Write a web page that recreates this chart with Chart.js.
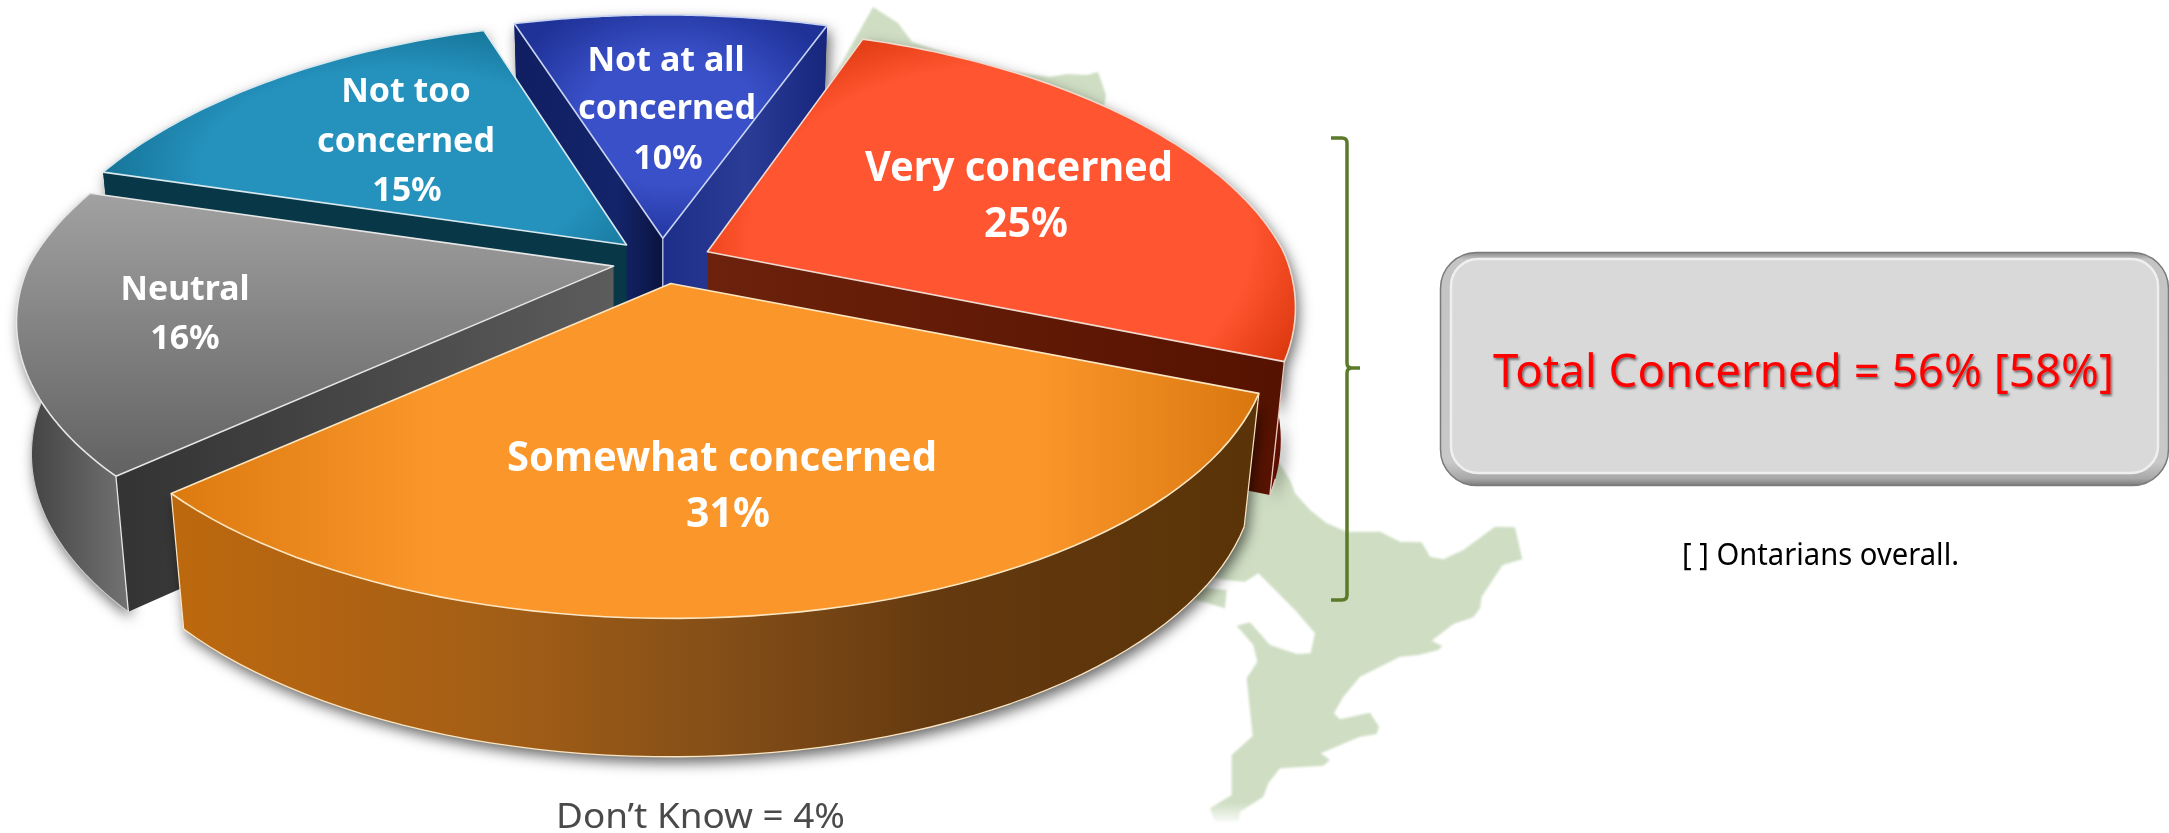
<!DOCTYPE html>
<html>
<head>
<meta charset="utf-8">
<style>
html,body{margin:0;padding:0;background:#fff;width:2169px;height:833px;overflow:hidden}
#bg{position:absolute;left:0;top:0}
#wrap{position:absolute;left:0;top:0;width:2169px;height:833px}
text{font-family:"Noto Sans","Open Sans",sans-serif}
</style>
<script src="https://cdn.jsdelivr.net/npm/chart.js@4/dist/chart.umd.min.js"></script>
</head>
<body>
<svg id="bg" width="2169" height="833" viewBox="0 0 2169 833" xmlns="http://www.w3.org/2000/svg">
  <defs>
    <filter id="soft" x="-5%" y="-5%" width="110%" height="110%"><feGaussianBlur stdDeviation="0.9"/></filter>
    <filter id="ts" x="-5%" y="-20%" width="110%" height="140%"><feDropShadow dx="1.5" dy="2" stdDeviation="1.2" flood-color="#000" flood-opacity="0.5"/></filter>
    <linearGradient id="fade" x1="0" y1="0" x2="0" y2="1"><stop offset="0.955" stop-color="#CFDEC3"/><stop offset="1" stop-color="#CFDEC3" stop-opacity="0.15"/></linearGradient>
    <linearGradient id="bev" x1="0" y1="0" x2="0" y2="1">
      <stop offset="0" stop-color="#8c8c8c"/><stop offset="0.03" stop-color="#c4c4c4"/>
      <stop offset="0.9" stop-color="#c8c8c8"/><stop offset="0.97" stop-color="#a8a8a8"/><stop offset="1" stop-color="#7c7c7c"/>
    </linearGradient>
  </defs>
  <g fill="#CFDEC3" filter="url(#soft)">
    <polygon points="832,80 873,7 898,23 912,42 1000,70 1050,77 1067,74 1087,75 1098,72 1106,95 1100,130 860,130"/>
    <g transform="translate(1180,480) scale(0.33333)">
      <polygon fill="url(#fade)" points="330,0 345,40 390,90 440,130 500,155 600,155 660,185 725,187 750,230 790,238 850,210 945,140 1005,142 1027,238 968,255 905,350 900,385 880,412 820,432 755,482 787,498 775,510 715,525 660,530 540,590 490,650 462,700 480,718 570,698 597,740 590,762 540,770 422,820 450,840 430,857 300,865 265,910 250,950 180,995 178,1025 105,1025 90,985 155,945 155,825 218,768 200,595 232,545 220,495 170,437 210,427 270,495 350,522 392,520 405,460 345,390 235,280 195,305 135,300 60,285 -90,300 180,-240"/>
      <polygon points="40,320 140,330 135,385 70,365 0,350"/>
    </g>
  </g>
  <path d="M1331,138 H1342 Q1347,138 1347,143 V363 Q1347,368 1352,368 H1360 M1352,368 Q1347,368 1347,373 V595 Q1347,600 1342,600 H1331" fill="none" stroke="#5B7A2A" stroke-width="3.5"/>
  <rect x="1440.5" y="252.5" width="728" height="233" rx="36" fill="url(#bev)" stroke="#7a7a7a" stroke-width="1.5"/>
  <rect x="1451" y="259" width="707" height="214" rx="27" fill="#D9D9D9" stroke="#EFEFEF" stroke-width="2.5"/>
  <text x="1493" y="387" font-size="46" fill="#FF0000" textLength="621" lengthAdjust="spacingAndGlyphs" filter="url(#ts)">Total Concerned = 56% [58%]</text>
  <text x="1682" y="565" font-size="30" fill="#000" textLength="277" lengthAdjust="spacingAndGlyphs">[ ] Ontarians overall.</text>
  <text x="556" y="828" font-size="34" fill="#4a4a4a" textLength="289" lengthAdjust="spacingAndGlyphs">Don’t Know = 4%</text>
</svg>
<div id="wrap"><canvas id="c" width="2169" height="833"></canvas></div>
<script>
// ---- chart data ----
const categories = ["Very concerned", "Somewhat concerned", "Neutral", "Not too concerned", "Not at all concerned"];
const values = [25, 31, 16, 15, 10];
const baseColors = ["#FF5530", "#FA962A", "#8A8A8A", "#2592BE", "#3A50C8"];
const labelLines = [
  ["Very concerned", "25%"],
  ["Somewhat concerned", "31%"],
  ["Neutral", "16%"],
  ["Not too", "concerned", "15%"],
  ["Not at all", "concerned", "10%"]
];

// ---- view of the pie plane ----
const VIEW = { A: 585, B: 268, p: 0.2, farNarrow: 0.042, depth: 131, depthGrow: 0.022, shrink: 0.975 };
const WIDTH_FIT = [0.985, 1.004, 1, 1, 1.04];
const DRAW_ORDER = [4, 3, 0, 2, 1];

function sliceGeom(arc, index) {
  const g = arc.getProps(['x', 'y', 'startAngle', 'endAngle', 'outerRadius'], true);
  const mid = (g.startAngle + g.endAngle) / 2;
  const d = (arc.options.offset || 0) / g.outerRadius;
  const apex = { x: g.x + VIEW.A * d * Math.cos(mid), y: g.y + VIEW.B * d * Math.sin(mid) };
  const at = ang => {
    const u = Math.cos(ang), v = -Math.sin(ang), w = 1 + VIEW.p * v;
    const narrow = 1 - VIEW.farNarrow * Math.max(v, 0);
    return { x: apex.x + VIEW.A * WIDTH_FIT[index] * narrow * u / w, y: apex.y - VIEW.B * v / w };
  };
  const low = p => ({ x: apex.x + (p.x - apex.x) * VIEW.shrink, y: p.y + VIEW.depth + (p.y - apex.y) * VIEW.depthGrow });
  const rim = [];
  const N = 60;
  for (let i = 0; i <= N; i++) rim.push(at(g.startAngle + (g.endAngle - g.startAngle) * i / N));
  return { apex, rim, low };
}
function poly(ctx, pts) {
  ctx.beginPath();
  pts.forEach((p, i) => i ? ctx.lineTo(p.x, p.y) : ctx.moveTo(p.x, p.y));
  ctx.closePath();
}
function line(ctx, pts, color, w) {
  ctx.beginPath();
  pts.forEach((p, i) => i ? ctx.lineTo(p.x, p.y) : ctx.moveTo(p.x, p.y));
  ctx.strokeStyle = color; ctx.lineWidth = w; ctx.lineJoin = 'round'; ctx.stroke();
}
function lin(ctx, x0, y0, x1, y1, stops) {
  const g = ctx.createLinearGradient(x0, y0, x1, y1);
  stops.forEach(s => g.addColorStop(s[0], s[1]));
  return g;
}
function ellFill(ctx, cx, cy, rx, ry, stops) {
  ctx.save();
  ctx.translate(cx, cy); ctx.scale(rx, ry);
  const g = ctx.createRadialGradient(0, 0, 0, 0, 0, 1);
  stops.forEach(s => g.addColorStop(s[0], s[1]));
  ctx.fillStyle = g; ctx.fill();
  ctx.restore();
}
const topFill = [
  ctx => ellFill(ctx, 1000, 240, 326, 226, [[0, baseColors[0]], [0.77, baseColors[0]], [1, '#DE3A10']]),
  ctx => { ctx.fillStyle = lin(ctx, 172, 0, 1255, 0, [[0, '#DC7A10'], [0.24, baseColors[1]], [0.8, baseColors[1]], [1, '#DA7810']]); ctx.fill(); },
  ctx => { ctx.fillStyle = lin(ctx, 0, 190, 0, 470, [[0, '#A2A2A2'], [1, '#636363']]); ctx.fill(); },
  ctx => ellFill(ctx, 395, 170, 310, 160, [[0, baseColors[3]], [0.62, baseColors[3]], [1, '#136F90']]),
  ctx => ellFill(ctx, 672, 120, 175, 130, [[0, baseColors[4]], [0.5, baseColors[4]], [1, '#1F3298']])
];
const stripFill = [
  ctx => '#5C0E00',
  ctx => lin(ctx, 184, 0, 1241, 0, [[0, '#BC680F'], [0.3, '#A35E16'], [0.5, '#854F18'], [0.72, '#64390F'], [1, '#5A3408']]),
  ctx => lin(ctx, 28, 0, 132, 0, [[0, '#434343'], [1, '#747474']]),
  ctx => '#083848',
  ctx => '#16257A'
];
const wallFill = [
  ctx => lin(ctx, 704, 0, 1280, 0, [[0, '#6C220C'], [1, '#561200']]),
  ctx => '#7a4a12',
  ctx => lin(ctx, 132, 0, 614, 0, [[0, '#343434'], [1, '#5C5C5C']]),
  ctx => '#083848',
  null
];
const edge = ['#F0DAD0', '#FBE6C2', '#E6E6E6', '#D8E8EE', '#C8D4F2'];

const pie3d = {
  id: 'pie3d',
  beforeDatasetsDraw(chart) {
    const ctx = chart.ctx;
    const arcs = chart.getDatasetMeta(0).data;
    DRAW_ORDER.forEach(i => {
      const s = sliceGeom(arcs[i], i);
      const first = s.rim[0], last = s.rim[s.rim.length - 1];
      const lowRim = s.rim.map(s.low);
      const lowApex = { x: s.apex.x, y: s.apex.y + VIEW.depth };
      // outer wall, with the cast shadow
      ctx.save();
      ctx.shadowColor = 'rgba(0,0,0,0.6)'; ctx.shadowBlur = 14; ctx.shadowOffsetX = 3; ctx.shadowOffsetY = 6;
      poly(ctx, s.rim.concat(lowRim.slice().reverse()));
      ctx.fillStyle = stripFill[i](ctx); ctx.fill();
      ctx.restore();
      if (i === 1) line(ctx, lowRim, edge[i], 1.3);
      if (i === 2) line(ctx, lowRim, '#C8C8C8', 1.2);
      if (i === 0) line(ctx, lowRim.slice(-3), '#E8C8C0', 1.3);
      // radial walls that face the viewer
      if (first.x < s.apex.x) {
        poly(ctx, [s.apex, first, s.low(first), lowApex]);
        ctx.fillStyle = i === 4 ? lin(ctx, 515, 0, 662, 0, [[0, '#101F62'], [0.7, '#14246A'], [1, '#0A1440']]) : wallFill[i](ctx);
        ctx.fill();
      }
      if (last.x > s.apex.x) {
        poly(ctx, [s.apex, last, s.low(last), lowApex]);
        ctx.fillStyle = i === 4 ? lin(ctx, 662, 0, 831, 0, [[0, '#1D2E88'], [0.5, '#2A3C96'], [1, '#16257C']]) : wallFill[i](ctx);
        ctx.fill();
      }
      if (i === 1) {
        line(ctx, [first, s.low(first)], edge[i], 1.2);
        line(ctx, [last, s.low(last)], edge[i], 1.2);
      }
      if (i === 2) line(ctx, [first, s.low(first)], '#E6E6E6', 1.3);
      if (i === 0) line(ctx, [last, s.low(last)], '#E8C8C0', 1.3);
      if (i === 4) line(ctx, [s.apex, lowApex], '#C8D4F2', 1.2);
      // top face
      const top = [s.apex].concat(s.rim);
      poly(ctx, top);
      topFill[i](ctx);
      poly(ctx, top);
      ctx.strokeStyle = edge[i]; ctx.lineWidth = 1.6; ctx.lineJoin = 'round'; ctx.stroke();
    });
    return false;
  },
  afterDraw(chart) {
    const ctx = chart.ctx;
    ctx.save();
    ctx.fillStyle = '#fff';
    ctx.textAlign = 'center';
    ctx.textBaseline = 'alphabetic';
    const big = '700 41px "Noto Sans","Open Sans",sans-serif';
    const small = '700 34px "Noto Sans","Open Sans",sans-serif';
    const place = [
      { font: big,   spots: [[1019, 181, 308], [1026, 237, 84]] },
      { font: big,   spots: [[722, 471, 430], [728, 527, 84]] },
      { font: small, spots: [[185, 300, 129], [185, 349, 71]] },
      { font: small, spots: [[406, 102, 135], [406, 152, 181], [407, 201, 72]] },
      { font: small, spots: [[666, 71, 162], [667, 119, 179], [668, 169, 72]] }
    ];
    labelLines.forEach((lines, i) => {
      ctx.font = place[i].font;
      lines.forEach((t, j) => {
        const [x, y, w] = place[i].spots[j];
        ctx.fillText(t, x, y, w);
      });
    });
    ctx.restore();
  }
};

new Chart(document.getElementById('c'), {
  type: 'pie',
  data: {
    labels: categories,
    datasets: [{
      data: values,
      backgroundColor: baseColors,
      borderWidth: 0,
      offset: 17
    }]
  },
  options: {
    responsive: false,
    animation: false,
    rotation: 19.5,
    radius: 200,
    layout: { padding: { left: 0, top: 0, right: 845, bottom: 311 } },
    plugins: { legend: { display: false }, tooltip: { enabled: false } }
  },
  plugins: [pie3d]
});
</script>
</body>
</html>
